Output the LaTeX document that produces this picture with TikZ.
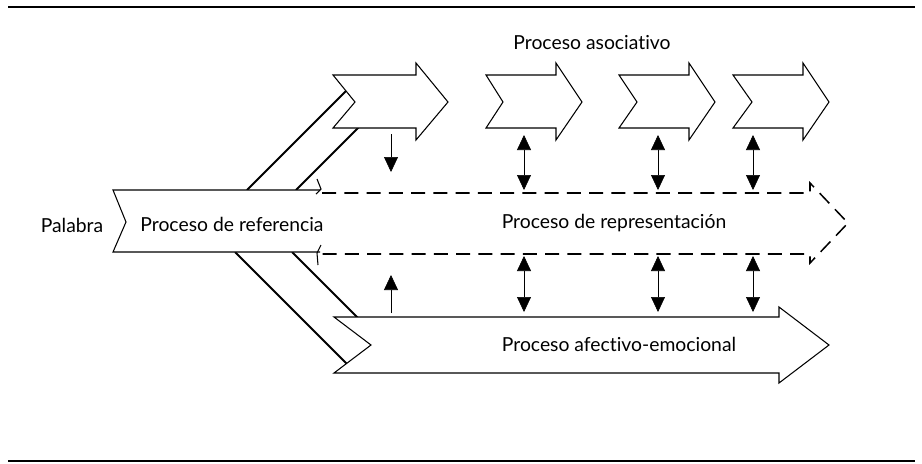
\documentclass[tikz,border=0pt]{standalone}
\usepackage{fontspec}
\setmainfont{Lato}[Ligatures={NoCommon, NoRequired, NoContextual}]
\usetikzlibrary{arrows.meta, positioning}

\begin{document}
\begin{tikzpicture}[x=0.03cm, y=-0.03cm,
		forma/.style={draw, fill=white, line width=0.9pt, line join=miter},
		diag/.style={line width=1.7pt},
		punta/.tip={Triangle[width=0.42cm, length=0.45cm]},
		flecha/.style={-punta, line width=0.5pt},
		doble/.style={punta-punta, line width=0.5pt},
		etiqueta/.style={font=\fontsize{16.5}{19}\selectfont, inner sep=0pt}]
	\useasboundingbox (0,0) rectangle (922,463);
	\draw [line width=1.3pt] (8,7) -- (915,7);
	\draw [line width=1.3pt] (8,461) -- (915,461);
	
	% diagonales
	\draw [diag] (247,190) -- (349,88);
	\draw [diag] (296,190) -- (362,124);
	\draw [diag] (235,252) -- (351,368);
	\draw [diag] (292,252) -- (360,320);
	
	% proceso de representacion
	\draw [line width=1.3pt, dash pattern=on 12pt off 7pt] (322,193) -- (810,193) -- (810,183) -- (848,223) -- (810,263) -- (810,254) -- (322,254);
	
	% proceso de referencia
	\draw [forma] (320,190) -- (113,190) -- (126,222) -- (113,252) -- (320,252);
	\draw [line width=0.9pt] (317,179) -- (321,189) -- (316,194);
	\draw [line width=0.9pt] (321,245) -- (317,253) -- (318,265);
	
	% proceso afectivo-emocional
	\draw [forma] (334,317) -- (779,317) -- (779,307) -- (829,345) -- (779,383) -- (779,373) -- (334,373) -- (371,345) -- cycle;
	
	% proceso asociativo
	\draw [forma] (333,75) -- (416,75) -- (416,63) -- (448,102) -- (416,140) -- (416,128) -- (333,128) -- (355,102) -- cycle;
	\foreach \x/\n in {486/17, 619/18, 733/19}
		\draw [forma] (\x,75) -- ++(70,0) -- ++(0,-12) -- (\x+96,102) -- (\x+70,140) -- ++(0,-12) -- (\x,128) -- (\x+\n,102) -- cycle;
	
	\node [etiqueta] (palabra) at (72,225) {Palabra};
	\node [etiqueta] (referencia) at (232,224) {Proceso de referencia};
	\node [etiqueta] (representacion) at (614,223) {Proceso de representación};
	\node [etiqueta] (afectivo) at (619,344) {Proceso afectivo-emocional};
	\node [etiqueta] (asociativo) at (592,43) {Proceso asociativo};
	
	\coordinate (d1) at (391,134);
	\coordinate (d2) at (391,172);
	\coordinate (u1) at (391,313);
	\coordinate (u2) at (391,275);
	\draw [flecha] (d1) -- (d2);
	\draw [flecha] (u1) -- (u2);
	
	\foreach \x [count=\i] in {524, 658, 753} {
		\coordinate (a\i) at (\x,135);
		\coordinate (b\i) at (\x,190);
		\coordinate (c\i) at (\x,256);
		\coordinate (e\i) at (\x,312);
		\draw [doble] (a\i) -- (b\i);
		\draw [doble] (c\i) -- (e\i);
	}
\end{tikzpicture}
\end{document}
